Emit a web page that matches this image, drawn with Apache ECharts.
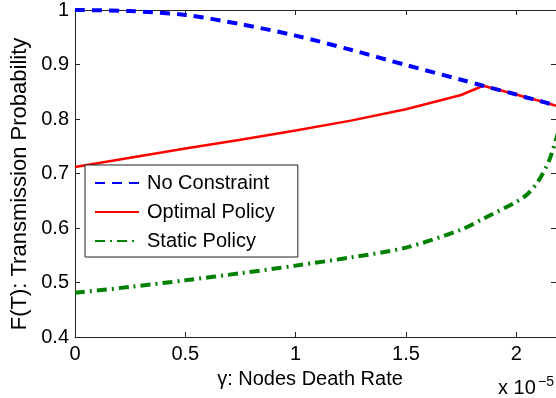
<!DOCTYPE html>
<html>
<head>
<meta charset="utf-8">
<script src="https://cdn.jsdelivr.net/npm/echarts@6/dist/echarts.min.js"></script>
<style>
	html, body { margin: 0; padding: 0; background: #fff; }
	#chart { width: 556px; height: 398px; }
</style>
</head>
<body>
<div id="chart"></div>
<script>
// death rate, in units of 1e-5
let gammaValues = [0, 0.25, 0.5, 0.75, 1.0, 1.25, 1.5, 1.75, 1.85, 2.0, 2.05, 2.1, 2.15, 2.2];

let noConstraint = [1.0, 0.998, 0.991, 0.974, 0.953, 0.927, 0.899, 0.872, 0.861, 0.845, 0.839, 0.834, 0.828, 0.822];
let optimalPolicy = [0.712, 0.729, 0.746, 0.762, 0.779, 0.797, 0.818, 0.844, 0.861, 0.845, 0.839, 0.834, 0.828, 0.822];
let staticPolicy = [0.481, 0.492, 0.504, 0.517, 0.531, 0.546, 0.564, 0.597, 0.617, 0.648, 0.662, 0.686, 0.725, 0.79];

let seriesNames = ["No Constraint", "Optimal Policy", "Static Policy"];

function pairs(ys) {
	return gammaValues.map(function (x, i) {
		return [x, ys[i]];
	});
}

function buildChart() {
	let dom = document.getElementById("chart");
	let myChart = echarts.init(dom, null, { renderer: "canvas" });

	let font = "Liberation Sans, Arial, Helvetica, sans-serif";
	let axisColor = "#222";

	// MATLAB-style box: ticks inside on all four sides
	let boxAxis = {
		axisLine: { show: true, onZero: false, lineStyle: { color: axisColor, width: 1 } },
		axisTick: { show: true, inside: true, length: 5, lineStyle: { color: axisColor } },
		splitLine: { show: false },
	};

	let option = {
		animation: false,
		textStyle: { fontFamily: font },
		grid: { left: 75, top: 10, width: 482, height: 327 },
		xAxis: [
			Object.assign({
				type: "value",
				min: 0,
				max: 2.18,
				interval: 0.5,
				axisLabel: { color: "#000", fontSize: 20, margin: 7, fontFamily: font,
					showMaxLabel: false },
			}, boxAxis),
			Object.assign({
				type: "value",
				position: "top",
				min: 0,
				max: 2.18,
				interval: 0.5,
				axisLabel: { show: false },
			}, boxAxis),
		],
		yAxis: [
			Object.assign({
				type: "value",
				min: 0.4,
				max: 1,
				interval: 0.1,
				axisLabel: { color: "#000", fontSize: 20, margin: 6, fontFamily: font },
			}, boxAxis),
			Object.assign({
				type: "value",
				position: "right",
				min: 0.4,
				max: 1,
				interval: 0.1,
				axisLabel: { show: false },
			}, boxAxis),
		],
		legend: {
			orient: "vertical",
			left: 85,
			top: 165,
			data: seriesNames,
			itemWidth: 44,
			itemHeight: 14,
			itemGap: 9,
			padding: [8, 23, 6, 9],
			borderColor: axisColor,
			borderWidth: 1,
			backgroundColor: "#fff",
			itemStyle: { opacity: 0 },
			textStyle: { color: "#000", fontSize: 20, lineHeight: 20, fontFamily: font, padding: [0, 0, 0, 3] },
		},
		graphic: [
			{
				type: "text",
				x: 20,
				y: 184,
				rotation: Math.PI / 2,
				style: { text: "F(T): Transmission Probability", fontSize: 22, fontFamily: font, fill: "#000",
					align: "center", verticalAlign: "middle" },
			},
			{
				type: "text",
				x: 310,
				y: 379,
				style: { text: "γ: Nodes Death Rate", fontSize: 20, fontFamily: font, fill: "#000",
					align: "center", verticalAlign: "middle" },
			},
			{
				type: "text",
				x: 498,
				y: 388,
				style: { text: "x 10", fontSize: 20, fontFamily: font, fill: "#000",
					align: "left", verticalAlign: "middle" },
			},
			{
				type: "text",
				x: 538,
				y: 382,
				style: { text: "−5", fontSize: 14, fontFamily: font, fill: "#000",
					align: "left", verticalAlign: "middle" },
			},
		],
		series: [
			{
				name: "Optimal Policy",
				type: "line",
				data: pairs(optimalPolicy),
				symbol: "none",
				smooth: false,
				z: 2,
				lineStyle: { color: "#ff0000", width: 2.5 },
				itemStyle: { color: "#ff0000" },
			},
			{
				name: "No Constraint",
				type: "line",
				data: pairs(noConstraint),
				symbol: "none",
				smooth: 0.3,
				z: 3,
				lineStyle: { color: "#0000ff", width: 4, type: [10, 7] },
				itemStyle: { color: "#0000ff" },
			},
			{
				name: "Static Policy",
				type: "line",
				data: pairs(staticPolicy),
				symbol: "none",
				smooth: 0.3,
				z: 3,
				lineStyle: { color: "#008000", width: 4, type: [10, 5, 2, 5] },
				itemStyle: { color: "#008000" },
			},
		],
	};

	myChart.setOption(option);
	window.addEventListener("resize", myChart.resize);
}

buildChart();
</script>
</body>
</html>
